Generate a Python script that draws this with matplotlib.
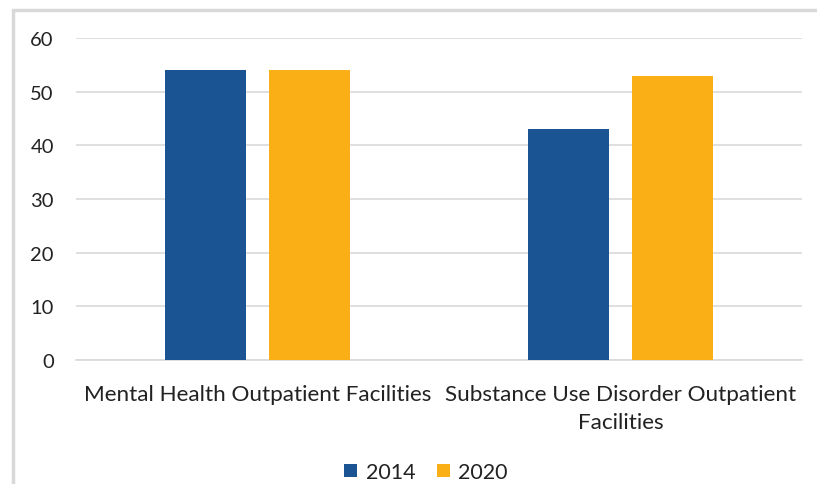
import matplotlib.pyplot as plt
import numpy as np
from matplotlib.patches import Rectangle, Patch

# -------- DATA --------
categories = ['Mental Health Outpatient Facilities',
              'Substance Use Disorder Outpatient\nFacilities']
years = ['2014', '2020']
values_2014 = [54, 43]
values_2020 = [54, 53]
colors = ['#1B5493', '#FBAF17']
# -------- DATA. --------

plt.rcParams['font.family'] = ['Lato', 'DejaVu Sans']

fig = plt.figure(figsize=(8.17, 4.85), dpi=100)
ax = fig.add_axes([76 / 817, 1 - 361 / 485, 726 / 817, 322 / 485 * 1.0])

x = np.arange(len(categories))
width = 0.223
offset = 0.142
ax.bar(x - offset, values_2014, width, color=colors[0], label=years[0], zorder=3)
ax.bar(x + offset, values_2020, width, color=colors[1], label=years[1], zorder=3)

ax.set_xlim(-0.5, 1.5)
ax.set_ylim(0, 60)
ax.set_yticks(range(0, 61, 10))
ax.set_xticks(x)
ax.set_xticklabels(categories, fontsize=16.2, color='#222222', linespacing=1.5)
ax.tick_params(axis='y', labelsize=14.5, colors='#222222', length=0, pad=16)
ax.tick_params(axis='x', length=0, pad=17)
ax.grid(axis='y', color='#D9D9D9', linewidth=1.2, zorder=0)

for side in ['top', 'right', 'left']:
    ax.spines[side].set_visible(False)
ax.spines['bottom'].set_color('#D9D9D9')
ax.spines['bottom'].set_linewidth(1.2)

# ---- Legend
handles = [Patch(facecolor=c) for c in colors]
fig.legend(handles, years, loc='center', bbox_to_anchor=(426 / 817, 1 - 473 / 485),
           ncol=2, frameon=False, fontsize=15.5, handlelength=0.6, handleheight=0.6,
           columnspacing=1.0, handletextpad=0.4, labelcolor='#222222')

# ---- Chart border (partially visible)
fig.patches.append(Rectangle((12.5 / 817, -0.1), 1.2, 1 - 10.5 / 485 + 0.1,
                             transform=fig.transFigure, fill=False,
                             edgecolor='#D9D9D9', linewidth=2.5, zorder=0))

fig.savefig('out.png', dpi=100)
